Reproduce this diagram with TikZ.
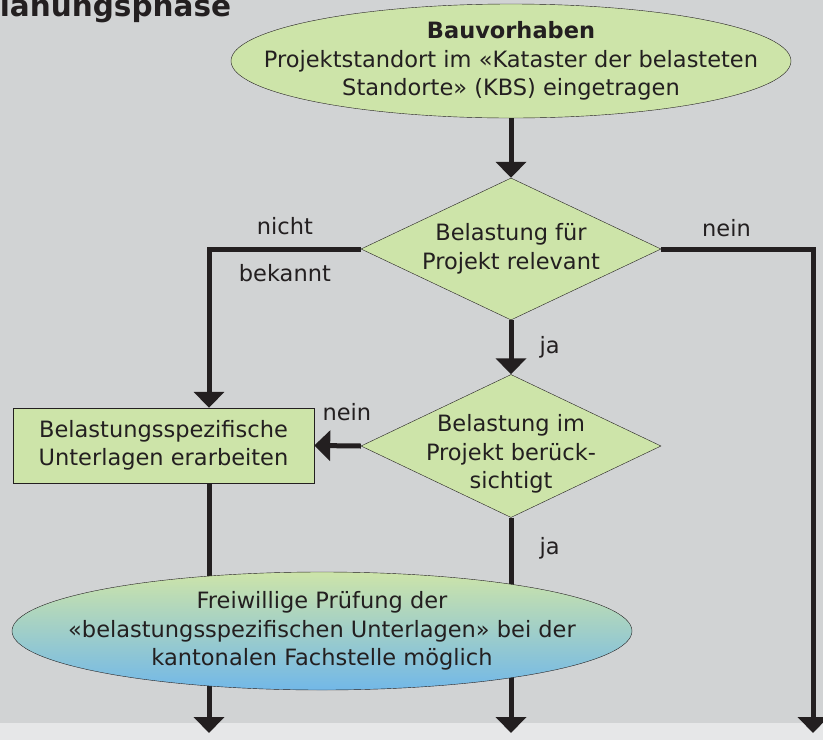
\documentclass[tikz,border=0pt]{standalone}
\usepackage{fontspec}
\setmainfont{DejaVu Sans}
\usepackage{tikz}
\usetikzlibrary{shapes, arrows.meta}
\definecolor{grau}{HTML}{D1D3D4}
\definecolor{hellgrau}{HTML}{E6E7E8}
\definecolor{gruen}{HTML}{CDE4A9}
\definecolor{blau}{HTML}{72B8E8}
\definecolor{strich}{HTML}{231F20}
\newcommand{\fs}{\fontsize{22.5}{28.5}\selectfont}

\begin{document}
\begin{tikzpicture}[x=1pt, y=-1pt,
        txt/.style={font=\fs, align=center, inner sep=0, text=strich},
        feld/.style={draw=strich, fill=gruen, inner sep=0},
        pfeil/.style={draw=strich, line width=5pt, -{Triangle[width=30pt,length=16pt]}}]
        \useasboundingbox (0,0) rectangle (823,740);
        \fill[grau] (0,0) rectangle (823,723);
        \fill[hellgrau] (0,723) rectangle (823,740);
        \node[anchor=base west, inner sep=0, text=strich, font=\bfseries\fontsize{29.5}{29.5}\selectfont] (titel) at (-22,16) {Planungsphase};

        % Knoten
        \node[feld, ellipse, minimum width=560, minimum height=114,
            label={[txt]center:{\textbf{Bauvorhaben}\\Projektstandort im «Kataster der belasteten\\Standorte» (KBS) eingetragen}}] (bau) at (511,61) {};
        \node[feld, diamond, minimum width=300, minimum height=142,
            label={[txt]center:{Belastung für\\Projekt relevant}}] (rel) at (511,249) {};
        \node[feld, diamond, minimum width=300, minimum height=143,
            label={[txt, yshift=-8pt]center:{Belastung im\\Projekt berück-\\sichtigt}}] (chk) at (511,446) {};
        \node[feld, rectangle, minimum width=301, minimum height=75, txt] (unt) at (163.5,445.5) {Belastungsspezifische\\Unterlagen erarbeiten};
        \coordinate (l1) at (209,733);
        \coordinate (m1) at (511,733);
        \coordinate (r1) at (813,733);

        % Pfeile
        \draw[pfeil] (bau.south) -- (rel.north);
        \draw[pfeil] (rel.west) -| node[txt, pos=0.25, above=12pt] (nicht) {nicht}
            node[txt, pos=0.25, below=13pt] (bekannt) {bekannt} (unt.north -| l1);
        \draw[pfeil] (rel.east) -| node[txt, pos=0.215, above=10pt] (nein1) {nein} (r1);
        \draw[pfeil] (rel.south) -- node[txt, right=26pt] (ja1) {ja} (chk.north);
        \draw[pfeil] (chk.west) -- node[txt, pos=0.3, above=23pt] (nein2) {nein} (unt.east);
        \draw[pfeil] (unt.south -| l1) -- (l1);
        \draw[pfeil] (chk.south) -- node[txt, pos=0.14, right=26pt] (ja2) {ja} (m1);

        \node[draw=strich, ellipse, top color=gruen, bottom color=blau, inner sep=0,
            minimum width=620, minimum height=118,
            label={[txt]center:{Freiwillige Prüfung der\\«belastungsspezifischen Unterlagen» bei der\\kantonalen Fachstelle möglich}}] (pruef) at (322,631) {};
    \end{tikzpicture}
\end{document}
